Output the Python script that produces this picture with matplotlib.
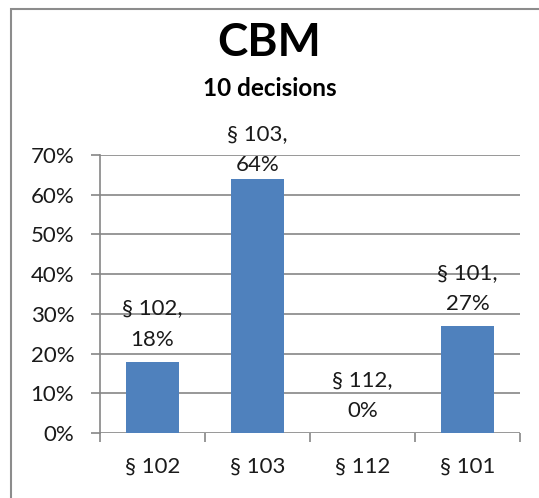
import numpy as np
import matplotlib.pyplot as plt
from matplotlib.patches import Rectangle
from matplotlib.ticker import FixedLocator, PercentFormatter

categories = ['§ 102', '§ 103', '§ 112', '§ 101']
shares = [18, 64, 0, 27]
y_ticks = [0, 10, 20, 30, 40, 50, 60, 70]

plt.rcParams['font.family'] = ['Lato', 'DejaVu Sans']

bar_color = '#4F81BD'
grid_color = '#868686'
text_color = '#1a1a1a'
fs = 16

fig = plt.figure(figsize=(5.39, 4.98), dpi=100)
ax = fig.add_axes([100 / 539, 65 / 498, 420 / 539, 278 / 498])

x = np.arange(len(categories))
ax.bar(x, shares, width=0.5, color=bar_color, zorder=3)

ax.set_xlim(-0.5, len(categories) - 0.5)
ax.set_ylim(0, 70)
ax.set_yticks(y_ticks)
ax.yaxis.set_major_formatter(PercentFormatter(decimals=0))
ax.yaxis.grid(True, color=grid_color, linewidth=1.2, zorder=0)

# ticks at category boundaries, labels at centres
ax.xaxis.set_major_locator(FixedLocator(np.arange(len(categories) + 1) - 0.5))
ax.xaxis.set_minor_locator(FixedLocator(x))
ax.set_xticklabels([], minor=False)
ax.set_xticklabels(categories, minor=True)
ax.tick_params(axis='x', which='major', length=6.5, width=1.2, color=grid_color)
ax.tick_params(axis='x', which='minor', length=0, pad=17, labelsize=fs, labelcolor=text_color)
ax.tick_params(axis='y', length=6.5, width=1.2, color=grid_color, pad=12, labelsize=fs, labelcolor=text_color)

for side in ['top', 'right', 'bottom']:
    ax.spines[side].set_visible(False)
ax.spines['left'].set_color(grid_color)
ax.spines['left'].set_linewidth(1.2)

# the tallest label is pushed down a bit so it stays near the plot area
label_offsets = [8.5, 2.5, 8.5, 8.5]
for xi, cat, val, off in zip(x, categories, shares, label_offsets):
    ax.annotate(f'{cat},\n{val}%', (xi, val), xytext=(0, off), textcoords='offset points',
                ha='center', va='bottom', fontsize=fs, color=text_color, linespacing=1.7)

fig.text(0.5, 1 - 43 / 498, 'CBM', ha='center', va='center', fontsize=33,
         fontweight='bold', color='black')
fig.text(0.5, 1 - 88 / 498, '10 decisions', ha='center', va='center', fontsize=17.5,
         fontweight='bold', color='black')

# chart frame (only left and top edge visible in the crop)
fig.patches.append(Rectangle((11 / 539, -0.1), 1.2, 1 - 9 / 498 + 0.1, transform=fig.transFigure,
                             fill=False, edgecolor='#8c8c8c', linewidth=1.5))

fig.savefig('out.png', dpi=100)
